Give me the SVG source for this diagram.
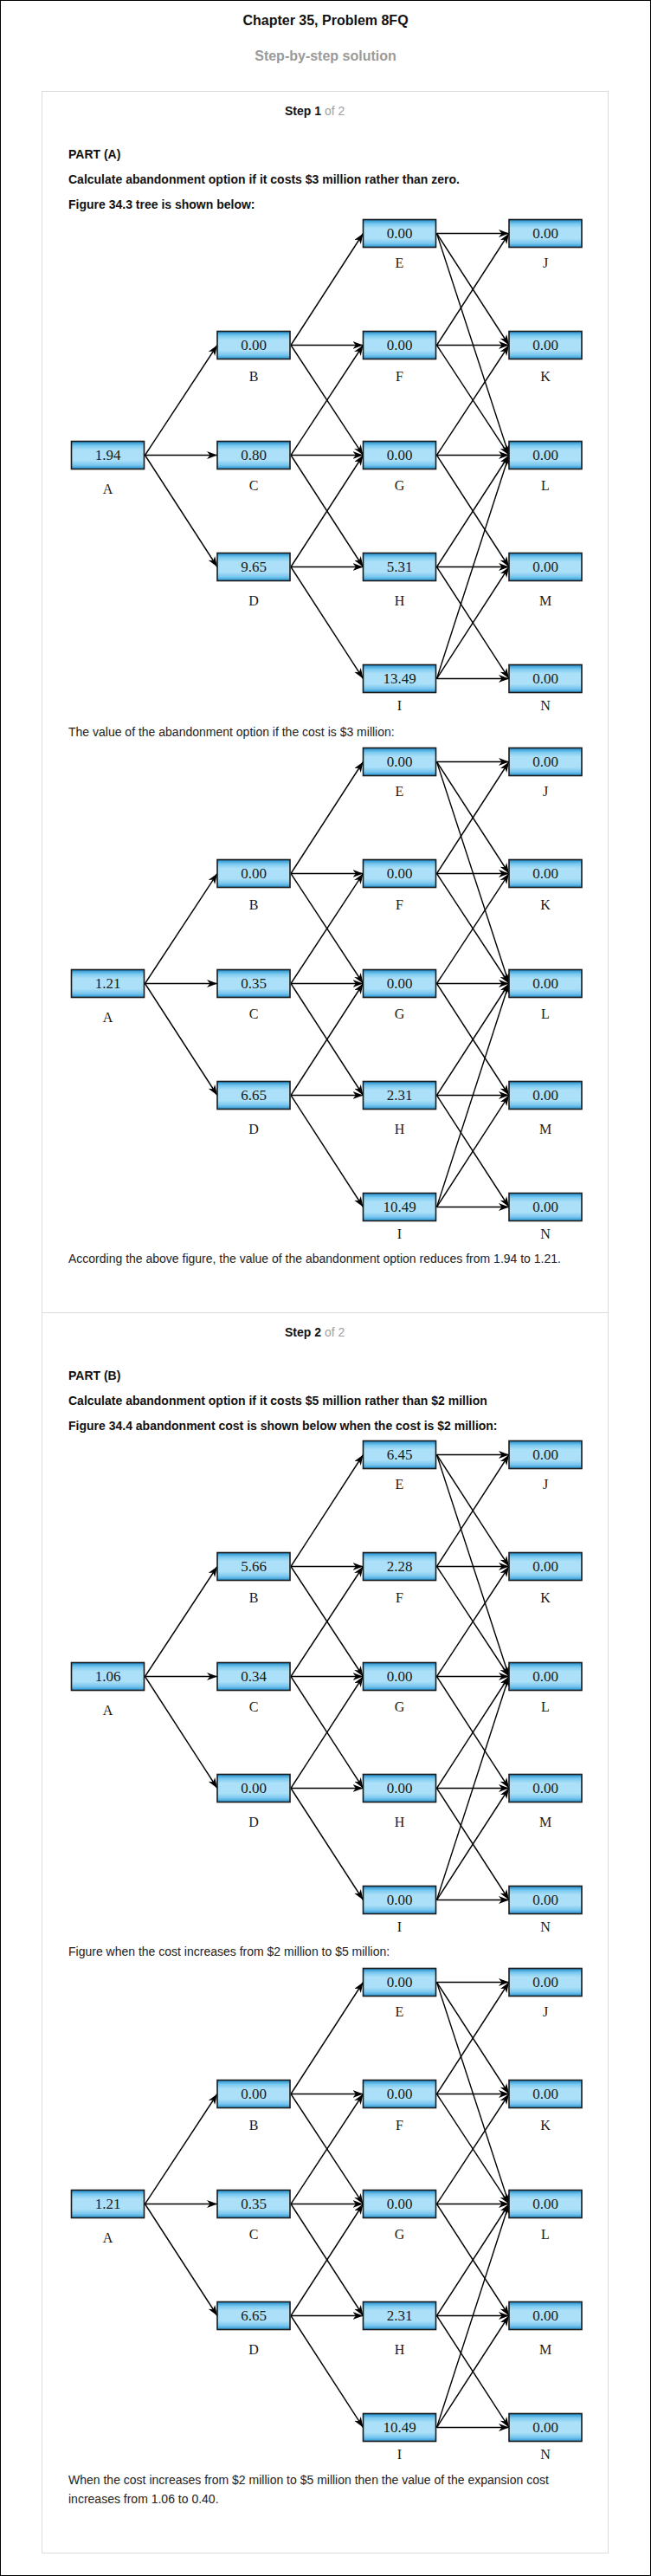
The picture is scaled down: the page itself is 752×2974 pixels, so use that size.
<svg xmlns="http://www.w3.org/2000/svg" width="752" height="2974" viewBox="0 0 752 2974">
<style>
.box{fill:url(#boxGrad);stroke:#1a1a1a;stroke-width:1.6}
.val{font-family:"Liberation Serif","Times New Roman",serif;font-size:17px;fill:#1a1a1a;text-anchor:middle}
.lbl{font-family:"Liberation Serif","Times New Roman",serif;font-size:16px;fill:#1a1a1a;text-anchor:middle}
.edge{stroke:#000;stroke-width:1.4;fill:none;marker-end:url(#arr)}
.h{font-family:"Liberation Sans",Arial,sans-serif;font-weight:bold;font-size:14px;fill:#111}
.p{font-family:"Liberation Sans",Arial,sans-serif;font-size:14px;fill:#222}
.gray{fill:#a0a0a0;font-weight:normal}
</style>
<defs>
<linearGradient id="boxGrad" x1="0" y1="0" x2="0" y2="1">
<stop offset="0" stop-color="#1d8ccc"/>
<stop offset="0.16" stop-color="#7ccaf0"/>
<stop offset="0.32" stop-color="#ace0f8"/>
<stop offset="0.68" stop-color="#ace0f8"/>
<stop offset="0.86" stop-color="#78c6ee"/>
<stop offset="1" stop-color="#2594d2"/>
</linearGradient>
<marker id="arr" markerUnits="userSpaceOnUse" markerWidth="13" markerHeight="10" refX="12" refY="4.5" orient="auto">
<path d="M0,0 L12,4.5 L0,9 L3.5,4.5 Z" fill="#000"/>
</marker>
</defs>
<rect x="0" y="0" width="752" height="2974" fill="#fff"/>
<rect x="0.5" y="0.5" width="751" height="2973" fill="none" stroke="#000" stroke-width="1"/>
<text x="376" y="29" text-anchor="middle" style="font-family:'Liberation Sans',Arial,sans-serif;font-weight:bold;font-size:16px;fill:#111">Chapter 35, Problem 8FQ</text>
<text x="376" y="70" text-anchor="middle" style="font-family:'Liberation Sans',Arial,sans-serif;font-weight:bold;font-size:16px;fill:#9a9a9a">Step-by-step solution</text>
<rect x="48.5" y="105.5" width="654" height="2842" fill="none" stroke="#dcdcdc" stroke-width="1"/>
<line x1="48.5" y1="1515.5" x2="702.5" y2="1515.5" stroke="#dcdcdc" stroke-width="1"/>

<text class="h" x="329" y="132.5">Step 1 <tspan class="gray">of 2</tspan></text>
<text class="h" x="79" y="182.5">PART (A)</text>
<text class="h" x="79" y="211.5">Calculate abandonment option if it costs $3 million rather than zero.</text>
<text class="h" x="79" y="240.5">Figure 34.3 tree is shown below:</text>

<g id="tree1" transform="translate(0,253.5)">
<g id="tree1-connectors">
<line class="edge" x1="167.5" y1="272" x2="251" y2="145"/>
<line class="edge" x1="167.5" y1="272" x2="251" y2="272"/>
<line class="edge" x1="167.5" y1="272" x2="251" y2="401"/>
<line class="edge" x1="336" y1="145" x2="419.5" y2="16"/>
<line class="edge" x1="336" y1="145" x2="419.5" y2="145"/>
<line class="edge" x1="336" y1="145" x2="419.5" y2="272"/>
<line class="edge" x1="336" y1="272" x2="419.5" y2="145"/>
<line class="edge" x1="336" y1="272" x2="419.5" y2="272"/>
<line class="edge" x1="336" y1="272" x2="419.5" y2="401"/>
<line class="edge" x1="336" y1="401" x2="419.5" y2="272"/>
<line class="edge" x1="336" y1="401" x2="419.5" y2="401"/>
<line class="edge" x1="336" y1="401" x2="419.5" y2="530"/>
<line class="edge" x1="504.5" y1="16" x2="588" y2="16"/>
<line class="edge" x1="504.5" y1="16" x2="588" y2="145"/>
<line class="edge" x1="504.5" y1="16" x2="588" y2="272"/>
<line class="edge" x1="504.5" y1="145" x2="588" y2="16"/>
<line class="edge" x1="504.5" y1="145" x2="588" y2="145"/>
<line class="edge" x1="504.5" y1="145" x2="588" y2="272"/>
<line class="edge" x1="504.5" y1="272" x2="588" y2="145"/>
<line class="edge" x1="504.5" y1="272" x2="588" y2="272"/>
<line class="edge" x1="504.5" y1="272" x2="588" y2="401"/>
<line class="edge" x1="504.5" y1="401" x2="588" y2="272"/>
<line class="edge" x1="504.5" y1="401" x2="588" y2="401"/>
<line class="edge" x1="504.5" y1="401" x2="588" y2="530"/>
<line class="edge" x1="504.5" y1="530" x2="588" y2="272"/>
<line class="edge" x1="504.5" y1="530" x2="588" y2="401"/>
<line class="edge" x1="504.5" y1="530" x2="588" y2="530"/>
</g>
<g id="tree1-A"><rect class="box" x="82.5" y="256" width="84" height="32"/><text class="val" x="124.5" y="277">1.94</text><text class="lbl" x="124.5" y="316.5">A</text></g>
<g id="tree1-B"><rect class="box" x="251" y="129" width="84" height="32"/><text class="val" x="293" y="150">0.00</text><text class="lbl" x="293" y="186">B</text></g>
<g id="tree1-C"><rect class="box" x="251" y="256" width="84" height="32"/><text class="val" x="293" y="277">0.80</text><text class="lbl" x="293" y="312.5">C</text></g>
<g id="tree1-D"><rect class="box" x="251" y="385" width="84" height="32"/><text class="val" x="293" y="406">9.65</text><text class="lbl" x="293" y="445.5">D</text></g>
<g id="tree1-E"><rect class="box" x="419.5" y="0" width="84" height="32"/><text class="val" x="461.5" y="21">0.00</text><text class="lbl" x="461.5" y="55.5">E</text></g>
<g id="tree1-F"><rect class="box" x="419.5" y="129" width="84" height="32"/><text class="val" x="461.5" y="150">0.00</text><text class="lbl" x="461.5" y="186">F</text></g>
<g id="tree1-G"><rect class="box" x="419.5" y="256" width="84" height="32"/><text class="val" x="461.5" y="277">0.00</text><text class="lbl" x="461.5" y="312.5">G</text></g>
<g id="tree1-H"><rect class="box" x="419.5" y="385" width="84" height="32"/><text class="val" x="461.5" y="406">5.31</text><text class="lbl" x="461.5" y="445.5">H</text></g>
<g id="tree1-I"><rect class="box" x="419.5" y="514" width="84" height="32"/><text class="val" x="461.5" y="535">13.49</text><text class="lbl" x="461.5" y="566">I</text></g>
<g id="tree1-J"><rect class="box" x="588" y="0" width="84" height="32"/><text class="val" x="630" y="21">0.00</text><text class="lbl" x="630" y="55.5">J</text></g>
<g id="tree1-K"><rect class="box" x="588" y="129" width="84" height="32"/><text class="val" x="630" y="150">0.00</text><text class="lbl" x="630" y="186">K</text></g>
<g id="tree1-L"><rect class="box" x="588" y="256" width="84" height="32"/><text class="val" x="630" y="277">0.00</text><text class="lbl" x="630" y="312.5">L</text></g>
<g id="tree1-M"><rect class="box" x="588" y="385" width="84" height="32"/><text class="val" x="630" y="406">0.00</text><text class="lbl" x="630" y="445.5">M</text></g>
<g id="tree1-N"><rect class="box" x="588" y="514" width="84" height="32"/><text class="val" x="630" y="535">0.00</text><text class="lbl" x="630" y="566">N</text></g>
</g>

<text class="p" x="79" y="849.5">The value of the abandonment option if the cost is $3 million:</text>

<g id="tree2" transform="translate(0,863.5)">
<g id="tree2-connectors">
<line class="edge" x1="167.5" y1="272" x2="251" y2="145"/>
<line class="edge" x1="167.5" y1="272" x2="251" y2="272"/>
<line class="edge" x1="167.5" y1="272" x2="251" y2="401"/>
<line class="edge" x1="336" y1="145" x2="419.5" y2="16"/>
<line class="edge" x1="336" y1="145" x2="419.5" y2="145"/>
<line class="edge" x1="336" y1="145" x2="419.5" y2="272"/>
<line class="edge" x1="336" y1="272" x2="419.5" y2="145"/>
<line class="edge" x1="336" y1="272" x2="419.5" y2="272"/>
<line class="edge" x1="336" y1="272" x2="419.5" y2="401"/>
<line class="edge" x1="336" y1="401" x2="419.5" y2="272"/>
<line class="edge" x1="336" y1="401" x2="419.5" y2="401"/>
<line class="edge" x1="336" y1="401" x2="419.5" y2="530"/>
<line class="edge" x1="504.5" y1="16" x2="588" y2="16"/>
<line class="edge" x1="504.5" y1="16" x2="588" y2="145"/>
<line class="edge" x1="504.5" y1="16" x2="588" y2="272"/>
<line class="edge" x1="504.5" y1="145" x2="588" y2="16"/>
<line class="edge" x1="504.5" y1="145" x2="588" y2="145"/>
<line class="edge" x1="504.5" y1="145" x2="588" y2="272"/>
<line class="edge" x1="504.5" y1="272" x2="588" y2="145"/>
<line class="edge" x1="504.5" y1="272" x2="588" y2="272"/>
<line class="edge" x1="504.5" y1="272" x2="588" y2="401"/>
<line class="edge" x1="504.5" y1="401" x2="588" y2="272"/>
<line class="edge" x1="504.5" y1="401" x2="588" y2="401"/>
<line class="edge" x1="504.5" y1="401" x2="588" y2="530"/>
<line class="edge" x1="504.5" y1="530" x2="588" y2="272"/>
<line class="edge" x1="504.5" y1="530" x2="588" y2="401"/>
<line class="edge" x1="504.5" y1="530" x2="588" y2="530"/>
</g>
<g id="tree2-A"><rect class="box" x="82.5" y="256" width="84" height="32"/><text class="val" x="124.5" y="277">1.21</text><text class="lbl" x="124.5" y="316.5">A</text></g>
<g id="tree2-B"><rect class="box" x="251" y="129" width="84" height="32"/><text class="val" x="293" y="150">0.00</text><text class="lbl" x="293" y="186">B</text></g>
<g id="tree2-C"><rect class="box" x="251" y="256" width="84" height="32"/><text class="val" x="293" y="277">0.35</text><text class="lbl" x="293" y="312.5">C</text></g>
<g id="tree2-D"><rect class="box" x="251" y="385" width="84" height="32"/><text class="val" x="293" y="406">6.65</text><text class="lbl" x="293" y="445.5">D</text></g>
<g id="tree2-E"><rect class="box" x="419.5" y="0" width="84" height="32"/><text class="val" x="461.5" y="21">0.00</text><text class="lbl" x="461.5" y="55.5">E</text></g>
<g id="tree2-F"><rect class="box" x="419.5" y="129" width="84" height="32"/><text class="val" x="461.5" y="150">0.00</text><text class="lbl" x="461.5" y="186">F</text></g>
<g id="tree2-G"><rect class="box" x="419.5" y="256" width="84" height="32"/><text class="val" x="461.5" y="277">0.00</text><text class="lbl" x="461.5" y="312.5">G</text></g>
<g id="tree2-H"><rect class="box" x="419.5" y="385" width="84" height="32"/><text class="val" x="461.5" y="406">2.31</text><text class="lbl" x="461.5" y="445.5">H</text></g>
<g id="tree2-I"><rect class="box" x="419.5" y="514" width="84" height="32"/><text class="val" x="461.5" y="535">10.49</text><text class="lbl" x="461.5" y="566">I</text></g>
<g id="tree2-J"><rect class="box" x="588" y="0" width="84" height="32"/><text class="val" x="630" y="21">0.00</text><text class="lbl" x="630" y="55.5">J</text></g>
<g id="tree2-K"><rect class="box" x="588" y="129" width="84" height="32"/><text class="val" x="630" y="150">0.00</text><text class="lbl" x="630" y="186">K</text></g>
<g id="tree2-L"><rect class="box" x="588" y="256" width="84" height="32"/><text class="val" x="630" y="277">0.00</text><text class="lbl" x="630" y="312.5">L</text></g>
<g id="tree2-M"><rect class="box" x="588" y="385" width="84" height="32"/><text class="val" x="630" y="406">0.00</text><text class="lbl" x="630" y="445.5">M</text></g>
<g id="tree2-N"><rect class="box" x="588" y="514" width="84" height="32"/><text class="val" x="630" y="535">0.00</text><text class="lbl" x="630" y="566">N</text></g>
</g>

<text class="p" x="79" y="1457.5">According the above figure, the value of the abandonment option reduces from 1.94 to 1.21.</text>

<text class="h" x="329" y="1542.5">Step 2 <tspan class="gray">of 2</tspan></text>
<text class="h" x="79" y="1592.5">PART (B)</text>
<text class="h" x="79" y="1621.5">Calculate abandonment option if it costs $5 million rather than $2 million</text>
<text class="h" x="79" y="1650.5">Figure 34.4 abandonment cost is shown below when the cost is $2 million:</text>

<g id="tree3" transform="translate(0,1663.5)">
<g id="tree3-connectors">
<line class="edge" x1="167.5" y1="272" x2="251" y2="145"/>
<line class="edge" x1="167.5" y1="272" x2="251" y2="272"/>
<line class="edge" x1="167.5" y1="272" x2="251" y2="401"/>
<line class="edge" x1="336" y1="145" x2="419.5" y2="16"/>
<line class="edge" x1="336" y1="145" x2="419.5" y2="145"/>
<line class="edge" x1="336" y1="145" x2="419.5" y2="272"/>
<line class="edge" x1="336" y1="272" x2="419.5" y2="145"/>
<line class="edge" x1="336" y1="272" x2="419.5" y2="272"/>
<line class="edge" x1="336" y1="272" x2="419.5" y2="401"/>
<line class="edge" x1="336" y1="401" x2="419.5" y2="272"/>
<line class="edge" x1="336" y1="401" x2="419.5" y2="401"/>
<line class="edge" x1="336" y1="401" x2="419.5" y2="530"/>
<line class="edge" x1="504.5" y1="16" x2="588" y2="16"/>
<line class="edge" x1="504.5" y1="16" x2="588" y2="145"/>
<line class="edge" x1="504.5" y1="16" x2="588" y2="272"/>
<line class="edge" x1="504.5" y1="145" x2="588" y2="16"/>
<line class="edge" x1="504.5" y1="145" x2="588" y2="145"/>
<line class="edge" x1="504.5" y1="145" x2="588" y2="272"/>
<line class="edge" x1="504.5" y1="272" x2="588" y2="145"/>
<line class="edge" x1="504.5" y1="272" x2="588" y2="272"/>
<line class="edge" x1="504.5" y1="272" x2="588" y2="401"/>
<line class="edge" x1="504.5" y1="401" x2="588" y2="272"/>
<line class="edge" x1="504.5" y1="401" x2="588" y2="401"/>
<line class="edge" x1="504.5" y1="401" x2="588" y2="530"/>
<line class="edge" x1="504.5" y1="530" x2="588" y2="272"/>
<line class="edge" x1="504.5" y1="530" x2="588" y2="401"/>
<line class="edge" x1="504.5" y1="530" x2="588" y2="530"/>
</g>
<g id="tree3-A"><rect class="box" x="82.5" y="256" width="84" height="32"/><text class="val" x="124.5" y="277">1.06</text><text class="lbl" x="124.5" y="316.5">A</text></g>
<g id="tree3-B"><rect class="box" x="251" y="129" width="84" height="32"/><text class="val" x="293" y="150">5.66</text><text class="lbl" x="293" y="186">B</text></g>
<g id="tree3-C"><rect class="box" x="251" y="256" width="84" height="32"/><text class="val" x="293" y="277">0.34</text><text class="lbl" x="293" y="312.5">C</text></g>
<g id="tree3-D"><rect class="box" x="251" y="385" width="84" height="32"/><text class="val" x="293" y="406">0.00</text><text class="lbl" x="293" y="445.5">D</text></g>
<g id="tree3-E"><rect class="box" x="419.5" y="0" width="84" height="32"/><text class="val" x="461.5" y="21">6.45</text><text class="lbl" x="461.5" y="55.5">E</text></g>
<g id="tree3-F"><rect class="box" x="419.5" y="129" width="84" height="32"/><text class="val" x="461.5" y="150">2.28</text><text class="lbl" x="461.5" y="186">F</text></g>
<g id="tree3-G"><rect class="box" x="419.5" y="256" width="84" height="32"/><text class="val" x="461.5" y="277">0.00</text><text class="lbl" x="461.5" y="312.5">G</text></g>
<g id="tree3-H"><rect class="box" x="419.5" y="385" width="84" height="32"/><text class="val" x="461.5" y="406">0.00</text><text class="lbl" x="461.5" y="445.5">H</text></g>
<g id="tree3-I"><rect class="box" x="419.5" y="514" width="84" height="32"/><text class="val" x="461.5" y="535">0.00</text><text class="lbl" x="461.5" y="566">I</text></g>
<g id="tree3-J"><rect class="box" x="588" y="0" width="84" height="32"/><text class="val" x="630" y="21">0.00</text><text class="lbl" x="630" y="55.5">J</text></g>
<g id="tree3-K"><rect class="box" x="588" y="129" width="84" height="32"/><text class="val" x="630" y="150">0.00</text><text class="lbl" x="630" y="186">K</text></g>
<g id="tree3-L"><rect class="box" x="588" y="256" width="84" height="32"/><text class="val" x="630" y="277">0.00</text><text class="lbl" x="630" y="312.5">L</text></g>
<g id="tree3-M"><rect class="box" x="588" y="385" width="84" height="32"/><text class="val" x="630" y="406">0.00</text><text class="lbl" x="630" y="445.5">M</text></g>
<g id="tree3-N"><rect class="box" x="588" y="514" width="84" height="32"/><text class="val" x="630" y="535">0.00</text><text class="lbl" x="630" y="566">N</text></g>
</g>

<text class="p" x="79" y="2257.5">Figure when the cost increases from $2 million to $5 million:</text>

<g id="tree4" transform="translate(0,2272.5)">
<g id="tree4-connectors">
<line class="edge" x1="167.5" y1="272" x2="251" y2="145"/>
<line class="edge" x1="167.5" y1="272" x2="251" y2="272"/>
<line class="edge" x1="167.5" y1="272" x2="251" y2="401"/>
<line class="edge" x1="336" y1="145" x2="419.5" y2="16"/>
<line class="edge" x1="336" y1="145" x2="419.5" y2="145"/>
<line class="edge" x1="336" y1="145" x2="419.5" y2="272"/>
<line class="edge" x1="336" y1="272" x2="419.5" y2="145"/>
<line class="edge" x1="336" y1="272" x2="419.5" y2="272"/>
<line class="edge" x1="336" y1="272" x2="419.5" y2="401"/>
<line class="edge" x1="336" y1="401" x2="419.5" y2="272"/>
<line class="edge" x1="336" y1="401" x2="419.5" y2="401"/>
<line class="edge" x1="336" y1="401" x2="419.5" y2="530"/>
<line class="edge" x1="504.5" y1="16" x2="588" y2="16"/>
<line class="edge" x1="504.5" y1="16" x2="588" y2="145"/>
<line class="edge" x1="504.5" y1="16" x2="588" y2="272"/>
<line class="edge" x1="504.5" y1="145" x2="588" y2="16"/>
<line class="edge" x1="504.5" y1="145" x2="588" y2="145"/>
<line class="edge" x1="504.5" y1="145" x2="588" y2="272"/>
<line class="edge" x1="504.5" y1="272" x2="588" y2="145"/>
<line class="edge" x1="504.5" y1="272" x2="588" y2="272"/>
<line class="edge" x1="504.5" y1="272" x2="588" y2="401"/>
<line class="edge" x1="504.5" y1="401" x2="588" y2="272"/>
<line class="edge" x1="504.5" y1="401" x2="588" y2="401"/>
<line class="edge" x1="504.5" y1="401" x2="588" y2="530"/>
<line class="edge" x1="504.5" y1="530" x2="588" y2="272"/>
<line class="edge" x1="504.5" y1="530" x2="588" y2="401"/>
<line class="edge" x1="504.5" y1="530" x2="588" y2="530"/>
</g>
<g id="tree4-A"><rect class="box" x="82.5" y="256" width="84" height="32"/><text class="val" x="124.5" y="277">1.21</text><text class="lbl" x="124.5" y="316.5">A</text></g>
<g id="tree4-B"><rect class="box" x="251" y="129" width="84" height="32"/><text class="val" x="293" y="150">0.00</text><text class="lbl" x="293" y="186">B</text></g>
<g id="tree4-C"><rect class="box" x="251" y="256" width="84" height="32"/><text class="val" x="293" y="277">0.35</text><text class="lbl" x="293" y="312.5">C</text></g>
<g id="tree4-D"><rect class="box" x="251" y="385" width="84" height="32"/><text class="val" x="293" y="406">6.65</text><text class="lbl" x="293" y="445.5">D</text></g>
<g id="tree4-E"><rect class="box" x="419.5" y="0" width="84" height="32"/><text class="val" x="461.5" y="21">0.00</text><text class="lbl" x="461.5" y="55.5">E</text></g>
<g id="tree4-F"><rect class="box" x="419.5" y="129" width="84" height="32"/><text class="val" x="461.5" y="150">0.00</text><text class="lbl" x="461.5" y="186">F</text></g>
<g id="tree4-G"><rect class="box" x="419.5" y="256" width="84" height="32"/><text class="val" x="461.5" y="277">0.00</text><text class="lbl" x="461.5" y="312.5">G</text></g>
<g id="tree4-H"><rect class="box" x="419.5" y="385" width="84" height="32"/><text class="val" x="461.5" y="406">2.31</text><text class="lbl" x="461.5" y="445.5">H</text></g>
<g id="tree4-I"><rect class="box" x="419.5" y="514" width="84" height="32"/><text class="val" x="461.5" y="535">10.49</text><text class="lbl" x="461.5" y="566">I</text></g>
<g id="tree4-J"><rect class="box" x="588" y="0" width="84" height="32"/><text class="val" x="630" y="21">0.00</text><text class="lbl" x="630" y="55.5">J</text></g>
<g id="tree4-K"><rect class="box" x="588" y="129" width="84" height="32"/><text class="val" x="630" y="150">0.00</text><text class="lbl" x="630" y="186">K</text></g>
<g id="tree4-L"><rect class="box" x="588" y="256" width="84" height="32"/><text class="val" x="630" y="277">0.00</text><text class="lbl" x="630" y="312.5">L</text></g>
<g id="tree4-M"><rect class="box" x="588" y="385" width="84" height="32"/><text class="val" x="630" y="406">0.00</text><text class="lbl" x="630" y="445.5">M</text></g>
<g id="tree4-N"><rect class="box" x="588" y="514" width="84" height="32"/><text class="val" x="630" y="535">0.00</text><text class="lbl" x="630" y="566">N</text></g>
</g>

<text class="p" x="79" y="2867.5">When the cost increases from $2 million to $5 million then the value of the expansion cost</text>
<text class="p" x="79" y="2889.5">increases from 1.06 to 0.40.</text>
</svg>
